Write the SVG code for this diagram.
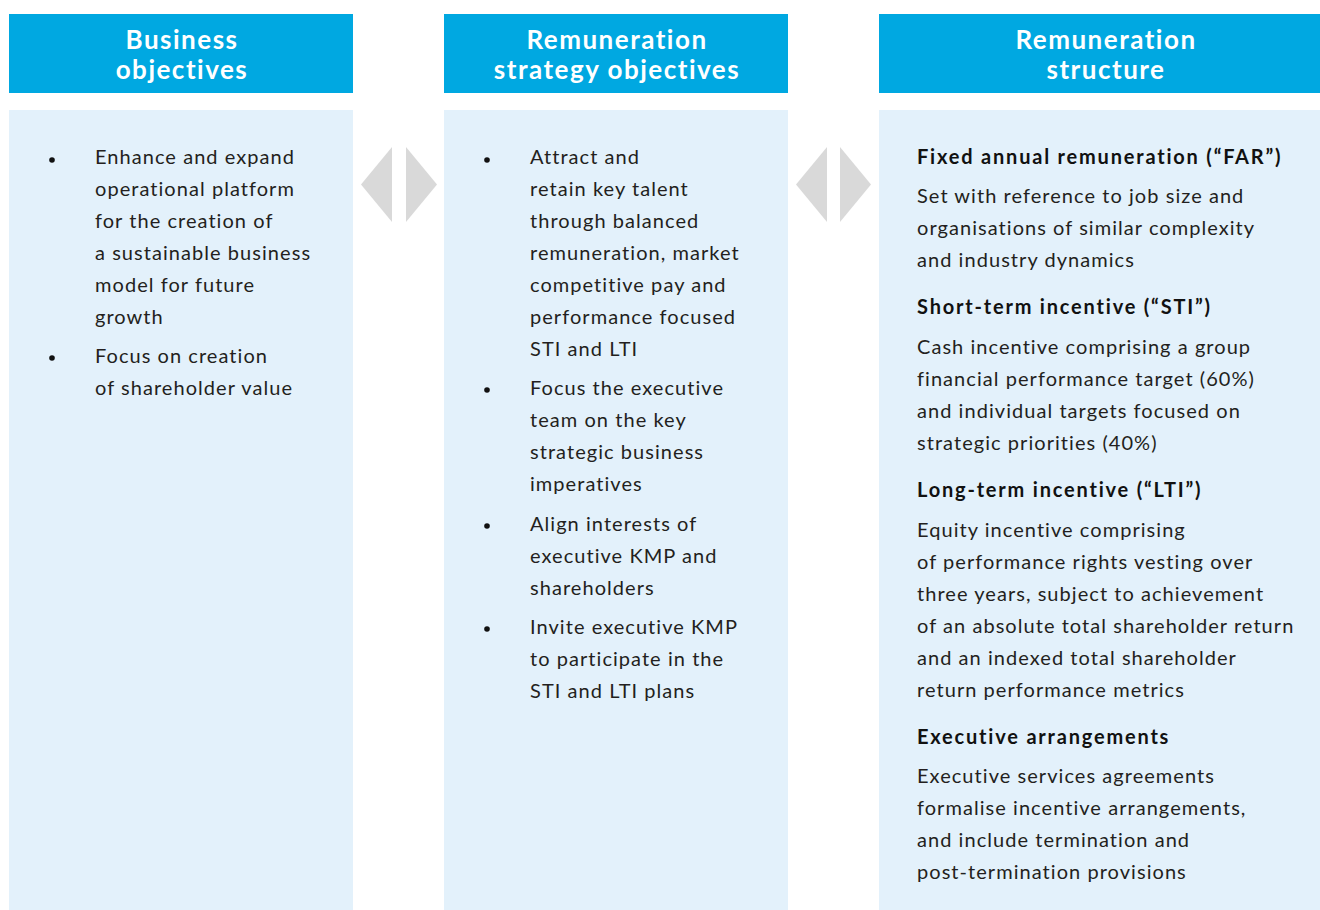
<svg xmlns="http://www.w3.org/2000/svg" width="1320" height="910" viewBox="0 0 1320 910">
<style>
.hdr{fill:#00A8E1}
.pnl{fill:#E3F1FB}
.ht{font-family:Lato,"Liberation Sans",sans-serif;font-weight:700;font-size:26px;letter-spacing:1.5px;fill:#fff;text-anchor:middle}
.bt{font-family:Lato,"Liberation Sans",sans-serif;font-size:20px;letter-spacing:1.05px;fill:#231F20}
.bb{font-family:Lato,"Liberation Sans",sans-serif;font-weight:700;font-size:20px;letter-spacing:1.8px;fill:#111}
.arr{fill:#D9D9D9}
.dot{fill:#111}
</style>
<rect width="1320" height="910" fill="#fff"/>
<g id="col1">
<rect class="hdr" x="9" y="14" width="344" height="79"/>
<text class="ht" x="182" y="49">Business</text>
<text class="ht" x="182" y="79">objectives</text>
<rect class="pnl" x="9" y="110" width="344" height="800"/>
<circle class="dot" cx="52" cy="160" r="2.8"/>
<text class="bt" x="95" y="164">Enhance and expand</text>
<text class="bt" x="95" y="196">operational platform</text>
<text class="bt" x="95" y="228">for the creation of</text>
<text class="bt" x="95" y="260">a sustainable business</text>
<text class="bt" x="95" y="292">model for future</text>
<text class="bt" x="95" y="324">growth</text>
<circle class="dot" cx="52" cy="358" r="2.8"/>
<text class="bt" x="95" y="363">Focus on creation</text>
<text class="bt" x="95" y="395">of shareholder value</text>
</g>
<g id="col2">
<rect class="hdr" x="444" y="14" width="344" height="79"/>
<text class="ht" x="617" y="49">Remuneration</text>
<text class="ht" x="617" y="79">strategy objectives</text>
<rect class="pnl" x="444" y="110" width="344" height="800"/>
<circle class="dot" cx="487" cy="160" r="2.8"/>
<text class="bt" x="530" y="164">Attract and</text>
<text class="bt" x="530" y="196">retain key talent</text>
<text class="bt" x="530" y="228">through balanced</text>
<text class="bt" x="530" y="260">remuneration, market</text>
<text class="bt" x="530" y="292">competitive pay and</text>
<text class="bt" x="530" y="324">performance focused</text>
<text class="bt" x="530" y="356">STI and LTI</text>
<circle class="dot" cx="487" cy="390" r="2.8"/>
<text class="bt" x="530" y="395">Focus the executive</text>
<text class="bt" x="530" y="427">team on the key</text>
<text class="bt" x="530" y="459">strategic business</text>
<text class="bt" x="530" y="491">imperatives</text>
<circle class="dot" cx="487" cy="526" r="2.8"/>
<text class="bt" x="530" y="531">Align interests of</text>
<text class="bt" x="530" y="563">executive KMP and</text>
<text class="bt" x="530" y="595">shareholders</text>
<circle class="dot" cx="487" cy="629" r="2.8"/>
<text class="bt" x="530" y="634">Invite executive KMP</text>
<text class="bt" x="530" y="666">to participate in the</text>
<text class="bt" x="530" y="698">STI and LTI plans</text>
</g>
<g id="col3">
<rect class="hdr" x="879" y="14" width="441" height="79"/>
<text class="ht" x="1106" y="49">Remuneration</text>
<text class="ht" x="1106" y="79">structure</text>
<rect class="pnl" x="879" y="110" width="441" height="800"/>
<text class="bb" x="917" y="164">Fixed annual remuneration (“FAR”)</text>
<text class="bt" x="917" y="203">Set with reference to job size and</text>
<text class="bt" x="917" y="235">organisations of similar complexity</text>
<text class="bt" x="917" y="267">and industry dynamics</text>
<text class="bb" x="917" y="314">Short-term incentive (“STI”)</text>
<text class="bt" x="917" y="354">Cash incentive comprising a group</text>
<text class="bt" x="917" y="386">financial performance target (60%)</text>
<text class="bt" x="917" y="418">and individual targets focused on</text>
<text class="bt" x="917" y="450">strategic priorities (40%)</text>
<text class="bb" x="917" y="497">Long-term incentive (“LTI”)</text>
<text class="bt" x="917" y="537">Equity incentive comprising</text>
<text class="bt" x="917" y="569">of performance rights vesting over</text>
<text class="bt" x="917" y="601">three years, subject to achievement</text>
<text class="bt" x="917" y="633">of an absolute total shareholder return</text>
<text class="bt" x="917" y="665">and an indexed total shareholder</text>
<text class="bt" x="917" y="697">return performance metrics</text>
<text class="bb" x="917" y="744">Executive arrangements</text>
<text class="bt" x="917" y="783">Executive services agreements</text>
<text class="bt" x="917" y="815">formalise incentive arrangements,</text>
<text class="bt" x="917" y="847">and include termination and</text>
<text class="bt" x="917" y="879">post-termination provisions</text>
</g>
<g id="connectors">
<polygon class="arr" points="392,147 361,184.5 392,222"/>
<polygon class="arr" points="406,147 437,184.5 406,222"/>
<polygon class="arr" points="827,147 796,184.5 827,222"/>
<polygon class="arr" points="840,147 871,184.5 840,222"/>
</g>
</svg>
